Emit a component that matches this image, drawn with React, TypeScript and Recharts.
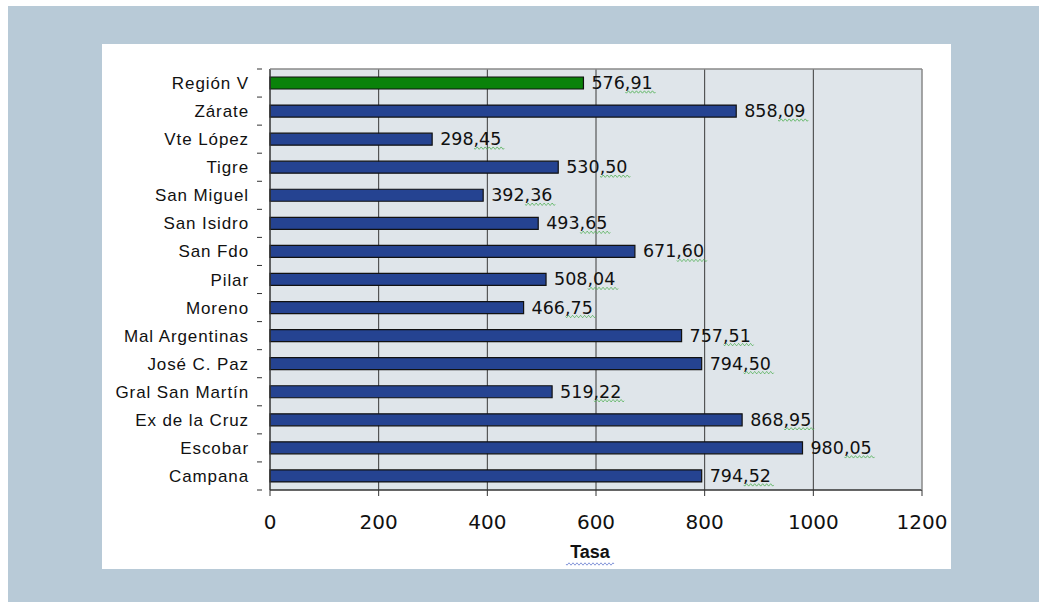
import React from 'react';
import { BarChart, Bar, Cell, XAxis, YAxis, CartesianGrid, LabelList } from 'recharts';

const regions = [
  'Región V', 'Zárate', 'Vte López', 'Tigre', 'San Miguel', 'San Isidro', 'San Fdo', 'Pilar',
  'Moreno', 'Mal Argentinas', 'José C. Paz', 'Gral San Martín', 'Ex de la Cruz', 'Escobar', 'Campana',
];
const tasa = [
  576.91, 858.09, 298.45, 530.5, 392.36, 493.65, 671.6, 508.04,
  466.75, 757.51, 794.5, 519.22, 868.95, 980.05, 794.52,
];
const xTicks = [0, 200, 400, 600, 800, 1000, 1200];

const data = regions.map((name, i) => ({ name, value: tasa[i] }));

const plotTop = 69;
const plotBottom = 490;
const band = (plotBottom - plotTop) / regions.length;

// spell-check style squiggle, like the original screenshot
const wavy = (x: number, y: number, w: number, color: string) => {
  let d = `M${x},${y}`;
  for (let i = 0; i < w; i += 2) d += ` l1,${i % 4 === 0 ? 1.2 : -1.2} l1,${i % 4 === 0 ? -1.2 : 1.2}`;
  return <path d={d} stroke={color} strokeWidth={0.8} fill="none" />;
};

const CatTick = (props: any) => {
  const { x, y, payload, index } = props;
  return (
    <g>
      <text x={x - 13} y={y} dy={6} textAnchor="end" fontFamily="'Liberation Sans', Arial" fontSize={17} letterSpacing={0.9} fill="#111">
        {payload.value}
      </text>
      <line x1={x - 5} x2={x} y1={y + band / 2} y2={y + band / 2} stroke="#333" />
      {index === 0 && <line x1={x - 5} x2={x} y1={y - band / 2} y2={y - band / 2} stroke="#333" />}
    </g>
  );
};

const NumTick = (props: any) => {
  const { x, payload } = props;
  return (
    <text x={x} y={plotBottom + 39} textAnchor="middle" fontFamily="'DejaVu Sans'" fontSize={20} fill="#111">
      {payload.value}
    </text>
  );
};

const ValueLabel = (props: any) => {
  const { x, y, width, height, value } = props;
  const txt = value.toFixed(2).replace('.', ',');
  const lx = x + width + 8;
  const cy = y + height / 2;
  return (
    <g>
      <text x={lx} y={cy} dy={6} fontFamily="'DejaVu Sans'" fontSize={17.5} fill="#111">{txt}</text>
      {wavy(lx + 34, cy + 9, 30, '#4caf50')}
    </g>
  );
};

export default function App() {
  return (
    <div style={{ position: 'absolute', left: 0, top: 0, width: 1039, height: 602, background: '#fff' }}>
      <div style={{ position: 'absolute', left: 8, top: 6, width: 1031, height: 596, background: '#b8cad7' }} />
      <div style={{ position: 'absolute', left: 102, top: 44, width: 849, height: 525, background: '#fff' }} />
      <div style={{ position: 'absolute', left: 0, top: 0 }}>
        <BarChart
          width={1039}
          height={602}
          layout="vertical"
          data={data}
          barSize={12}
          margin={{ top: plotTop, right: 1039 - 922, bottom: 602 - plotBottom - 30, left: 110 }}
        >
          <CartesianGrid
            horizontal={false}
            stroke="#3a3a3a"
            fill="#dfe5ea"
            fillOpacity={1}
            verticalValues={[200, 400, 600, 800, 1000]}
          />
          <XAxis
            type="number"
            domain={[0, 1200]}
            ticks={xTicks}
            height={30}
            axisLine={{ stroke: '#333', strokeWidth: 1.5 }}
            tickLine={{ stroke: '#333' }}
            tickSize={6}
            tick={<NumTick />}
            interval={0}
          />
          <YAxis
            type="category"
            dataKey="name"
            width={160}
            axisLine={{ stroke: '#333', strokeWidth: 1.5 }}
            tickLine={false}
            tick={<CatTick />}
            interval={0}
          />
          <Bar dataKey="value" stroke="#111" strokeWidth={1.2} isAnimationActive={false}>
            {data.map((d, i) => (
              <Cell key={d.name} fill={i === 0 ? '#0a820a' : '#254391'} />
            ))}
            <LabelList dataKey="value" content={<ValueLabel />} />
          </Bar>
        </BarChart>
      </div>
      <svg style={{ position: 'absolute', left: 0, top: 0 }} width={1039} height={602} pointerEvents="none">
        <line x1={270} x2={922} y1={plotTop} y2={plotTop} stroke="#888" strokeWidth={1.5} />
        <line x1={922} x2={922} y1={plotTop} y2={plotBottom} stroke="#888" strokeWidth={1.5} />
        <text x={590} y={558} textAnchor="middle" fontFamily="'Liberation Sans', Arial" fontWeight="bold" fontSize={18} fill="#111">
          Tasa
        </text>
        {wavy(566, 564, 48, '#6a7fd0')}
      </svg>
    </div>
  );
}
